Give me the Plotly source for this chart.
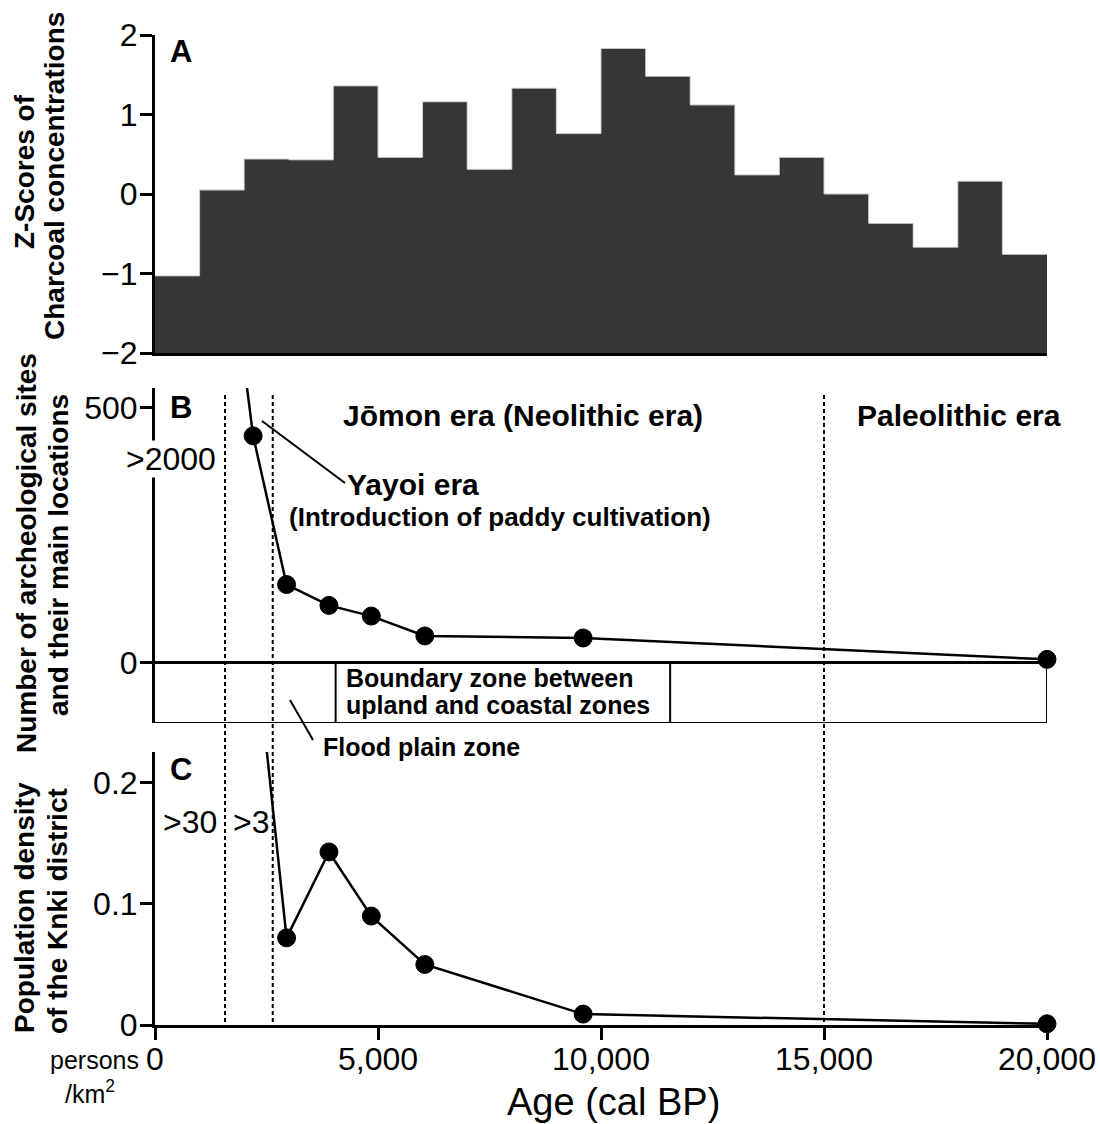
import plotly.graph_objects as go

# ---------------- data ----------------
bin_start = [0, 1000, 2000, 3000, 4000, 5000, 6000, 7000, 8000, 9000,
             10000, 11000, 12000, 13000, 14000, 15000, 16000, 17000, 18000, 19000]
bin_width = 1000
charcoal_z = [-1.03, 0.05, 0.44, 0.43, 1.36, 0.46, 1.16, 0.31, 1.33, 0.76,
              1.83, 1.48, 1.12, 0.24, 0.46, 0.00, -0.37, -0.67, 0.16, -0.76]

# archaeological sites (first point is off-scale, >2000)
sites_age = [1570, 2200, 2950, 3900, 4850, 6050, 9600, 20000]
sites_n = [880, 445, 153, 112, 91, 52, 48, 6]

# population density (first point is off-scale)
dens_age = [2200, 2950, 3900, 4850, 6050, 9600, 20000]
dens_val = [0.333, 0.072, 0.143, 0.090, 0.050, 0.009, 0.001]

era_bounds = [1570, 2640, 15000]
zone_floor = -119
boundary_zone = [4050, 11550]
age_max = 20000

x_ticks = [0, 5000, 10000, 15000, 20000]
x_ticktext = ["0", "5,000", "10,000", "15,000", "20,000"]

# ---------------- layout helpers ----------------
W, H = 1100, 1124
L, R = 155, 53
PW = W - L - R


def px(x):
    return (x - L) / PW


def py(y):
    return 1 - y / H


FONT = "Liberation Sans, Arial, Helvetica, sans-serif"
BLACK = "black"

fig = go.Figure()

# Panel A bars
fig.add_trace(go.Bar(
    x=[s + bin_width / 2 for s in bin_start],
    y=[v - (-2) for v in charcoal_z], base=-2, width=bin_width,
    marker=dict(color="#363636", line=dict(width=0)),
    xaxis="x", yaxis="y", showlegend=False, hoverinfo="skip"))
fig.add_trace(go.Scatter(
    x=bin_start + [age_max], y=charcoal_z + [charcoal_z[-1]],
    mode="lines", line=dict(shape="hv", color="#c8c8c8", width=1),
    xaxis="x", yaxis="y", showlegend=False, hoverinfo="skip"))

marker_style = dict(color=BLACK, opacity=1, line=dict(color=BLACK, width=1))

# Panel B
fig.add_trace(go.Scatter(
    x=sites_age, y=sites_n, mode="lines+markers",
    line=dict(color=BLACK, width=2.5),
    marker=dict(size=[0] + [18] * (len(sites_n) - 1), **marker_style),
    cliponaxis=False, xaxis="x2", yaxis="y2", showlegend=False))

# Panel C
fig.add_trace(go.Scatter(
    x=dens_age, y=dens_val, mode="lines+markers",
    line=dict(color=BLACK, width=2.5),
    marker=dict(size=[0] + [18] * (len(dens_val) - 1), **marker_style),
    cliponaxis=False, xaxis="x3", yaxis="y3", showlegend=False))

shapes = []
# dotted era lines spanning panels B and C
for b in era_bounds:
    shapes.append(dict(type="line", xref="x3", yref="paper", x0=b, x1=b,
                       y0=py(1022), y1=py(395),
                       line=dict(color=BLACK, width=2, dash="4px,3px")))
# zone boxes in panel B
shapes.append(dict(type="line", xref="x2", yref="y2", x0=0, x1=age_max, y0=0, y1=0,
                   line=dict(color=BLACK, width=3)))
shapes.append(dict(type="line", xref="x2", yref="y2", x0=0, x1=age_max,
                   y0=zone_floor, y1=zone_floor, line=dict(color=BLACK, width=2)))
shapes.append(dict(type="line", xref="x2", yref="y2", x0=age_max, x1=age_max,
                   y0=zone_floor, y1=0, line=dict(color=BLACK, width=2)))
for bz in boundary_zone:
    shapes.append(dict(type="line", xref="x2", yref="y2", x0=bz, x1=bz,
                       y0=zone_floor, y1=0, line=dict(color=BLACK, width=2)))
# pointer lines
shapes.append(dict(type="line", xref="paper", yref="paper",
                   x0=px(262), y0=py(421), x1=px(345), y1=py(483),
                   line=dict(color=BLACK, width=2)))
shapes.append(dict(type="line", xref="paper", yref="paper",
                   x0=px(290), y0=py(700), x1=px(313), y1=py(740),
                   line=dict(color=BLACK, width=2)))

ann = []


def add_text(text, x, y, size, bold=False, xanchor="center", angle=0, bg=None):
    t = f"<b>{text}</b>" if bold else text
    d = dict(text=t, x=px(x), y=py(y), xref="paper", yref="paper",
             xanchor=xanchor, yanchor="middle", showarrow=False,
             textangle=angle, font=dict(family=FONT, size=size, color=BLACK))
    if bg:
        d["bgcolor"] = bg
        d["borderpad"] = 0
    ann.append(d)


# panel letters
add_text("A", 181, 52, 31, bold=True)
add_text("B", 181, 408, 31, bold=True)
add_text("C", 181, 769, 31, bold=True)

# y titles
add_text("Z-Scores of", 24, 172, 28, bold=True, angle=-90)
add_text("Charcoal concentrations", 55, 176, 28, bold=True, angle=-90)
add_text("Number of archeological sites", 26, 553, 28, bold=True, angle=-90)
add_text("and their main locations", 59, 555, 28, bold=True, angle=-90)
add_text("Population density", 24, 908, 28, bold=True, angle=-90)
add_text("of the Knki district", 57, 911, 28, bold=True, angle=-90)

# panel B/C texts
add_text(">2000", 171, 459, 32, bg="white")
add_text(">30", 190, 822, 32)
add_text(">3", 251, 822, 32)
add_text("Jōmon era (Neolithic era)", 523, 416, 30, bold=True)
add_text("Paleolithic era", 959, 416, 30, bold=True)
add_text("Yayoi era", 345, 485, 30, bold=True, xanchor="left")
add_text("(Introduction of paddy cultivation)", 287, 517, 26, bold=True, xanchor="left")
add_text("Boundary zone between", 344, 678, 25, bold=True, xanchor="left")
add_text("upland and coastal zones", 344, 705, 25, bold=True, xanchor="left")
add_text("Flood plain zone", 321, 747, 25, bold=True, xanchor="left")

# bottom texts
add_text("persons", 94, 1060, 25)
add_text("/km<sup>2</sup>", 90, 1092, 25)
add_text("Age (cal BP)", 613, 1102, 38)

axis_common = dict(showgrid=False, zeroline=False, linecolor=BLACK, linewidth=3,
                   tickcolor=BLACK, tickwidth=2.5, ticklen=12, ticks="outside",
                   tickfont=dict(family=FONT, size=32, color=BLACK))

fig.update_layout(
    width=W, height=H,
    margin=dict(l=L, r=R, t=0, b=0, autoexpand=False),
    paper_bgcolor="white", plot_bgcolor="white",
    bargap=0, showlegend=False,
    font=dict(family=FONT, color=BLACK),
    xaxis=dict(domain=[0, 1], range=[0, age_max], anchor="y", showline=True,
               linecolor=BLACK, linewidth=3, ticks="", showticklabels=False,
               showgrid=False, zeroline=False),
    yaxis=dict(domain=[py(353), py(35)], range=[-2, 2], anchor="x",
               tickvals=[-2, -1, 0, 1, 2], showline=True, ticklabelstandoff=-4,
               **axis_common),
    xaxis2=dict(domain=[0, 1], range=[0, age_max], anchor="y2", visible=False),
    yaxis2=dict(domain=[py(723), py(388)], range=[zone_floor, 539], anchor="x2",
                tickvals=[0, 500], showline=True, ticklabelstandoff=-4,
                **axis_common),
    xaxis3=dict(domain=[0, 1], range=[0, age_max], anchor="y3", showline=True,
                tickvals=x_ticks, ticktext=x_ticktext, ticklabelstandoff=-8,
                **axis_common),
    yaxis3=dict(domain=[py(1025), py(752)], range=[0, 0.2256], anchor="x3",
                tickvals=[0, 0.1, 0.2], ticktext=["0", "0.1", "0.2"],
                showline=True, ticklabelstandoff=-4, **axis_common),
    shapes=shapes, annotations=ann,
)

fig.write_html("out.html")
